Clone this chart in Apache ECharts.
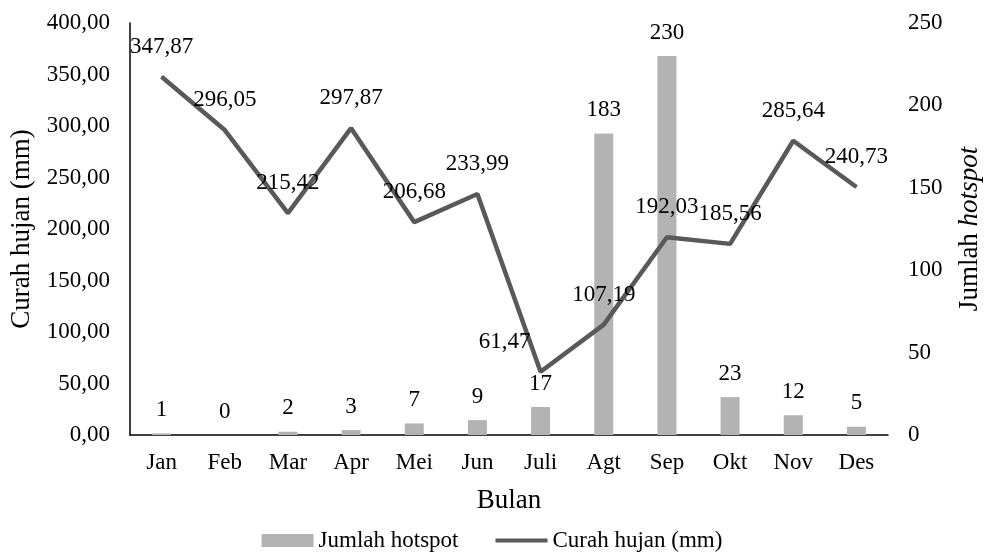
<!DOCTYPE html>
<html>
<head>
<meta charset="utf-8">
<script src="https://cdn.jsdelivr.net/npm/echarts@6/dist/echarts.min.js"></script>
<style>
  html, body { margin: 0; padding: 0; background: #fff; }
  #chart { width: 984px; height: 552px; }
</style>
</head>
<body>
<div id="chart"></div>
<script>
// data
const months = ['Jan', 'Feb', 'Mar', 'Apr', 'Mei', 'Jun', 'Juli', 'Agt', 'Sep', 'Okt', 'Nov', 'Des'];
const hotspot = [1, 0, 2, 3, 7, 9, 17, 183, 230, 23, 12, 5];
const curahHujan = [347.87, 296.05, 215.42, 297.87, 206.68, 233.99, 61.47, 107.19, 192.03, 185.56, 285.64, 240.73];

const font = 'Liberation Serif, Times New Roman, serif';
const fs = 23;      // ticks, labels, legend
const titleFs = 27; // axis titles
const comma = v => Number(v).toFixed(2).replace('.', ',');

const chart = echarts.init(document.getElementById('chart'));

const option = {
  backgroundColor: '#fff',
  animation: false,
  textStyle: { fontFamily: font, color: '#000' },
  grid: { left: 130, right: 96, top: 23, bottom: 117, outerBoundsMode: 'none' },
  legend: {
    top: 524,
    left: 'center',
    itemWidth: 52,
    itemHeight: 13,
    itemGap: 37,
    textStyle: { fontFamily: font, fontSize: fs, color: '#000' },
    data: [
      { name: 'Jumlah hotspot', icon: 'rect' },
      { name: 'Curah hujan (mm)', icon: 'path://M0,0h52v4h-52z' }
    ]
  },
  xAxis: {
    type: 'category',
    data: months,
    name: 'Bulan',
    nameLocation: 'middle',
    nameGap: 52,
    nameTextStyle: { fontFamily: font, fontSize: titleFs, color: '#000' },
    axisLine: { lineStyle: { color: '#000', width: 1.5 } },
    axisTick: { show: false },
    axisLabel: { fontFamily: font, fontSize: fs, color: '#000', margin: 16 }
  },
  yAxis: [
    {
      type: 'value',
      min: 0, max: 400, interval: 50,
      name: 'Curah hujan (mm)',
      nameLocation: 'middle',
      nameGap: 92,
      nameTextStyle: { fontFamily: font, fontSize: titleFs, color: '#000' },
      axisLine: { show: true, lineStyle: { color: '#000', width: 1.5 } },
      axisTick: { show: false },
      splitLine: { show: false },
      axisLabel: { fontFamily: font, fontSize: fs, color: '#000', margin: 20, formatter: comma }
    },
    {
      type: 'value',
      min: 0, max: 250, interval: 50,
      name: '{n|Jumlah }{i|hotspot}',
      nameLocation: 'middle',
      nameGap: 68,
      nameRotate: 90,
      nameTextStyle: {
        rich: {
          n: { fontFamily: font, fontSize: titleFs, color: '#000' },
          i: { fontFamily: font, fontSize: titleFs, color: '#000', fontStyle: 'italic' }
        }
      },
      axisLine: { show: false },
      axisTick: { show: false },
      splitLine: { show: false },
      axisLabel: { fontFamily: font, fontSize: fs, color: '#000', margin: 20 }
    }
  ],
  series: [
    {
      name: 'Jumlah hotspot',
      type: 'bar',
      yAxisIndex: 1,
      barWidth: 19,
      data: hotspot,
      itemStyle: { color: '#b3b3b3' },
      label: {
        show: true,
        position: 'top',
        distance: 12,
        fontFamily: font, fontSize: fs, color: '#000'
      }
    },
    {
      name: 'Curah hujan (mm)',
      type: 'line',
      yAxisIndex: 0,
      data: curahHujan.map((v, i) => i === 6
        ? { value: v, label: { offset: [-36, 0] } }
        : v),
      symbol: 'circle',
      symbolSize: 1,
      showSymbol: true,
      lineStyle: { color: '#595959', width: 4.5 },
      itemStyle: { color: '#595959' },
      label: {
        show: true,
        position: 'top',
        distance: 18,
        fontFamily: font, fontSize: fs, color: '#000',
        formatter: p => comma(p.value)
      }
    }
  ]
};

chart.setOption(option);
</script>
</body>
</html>
